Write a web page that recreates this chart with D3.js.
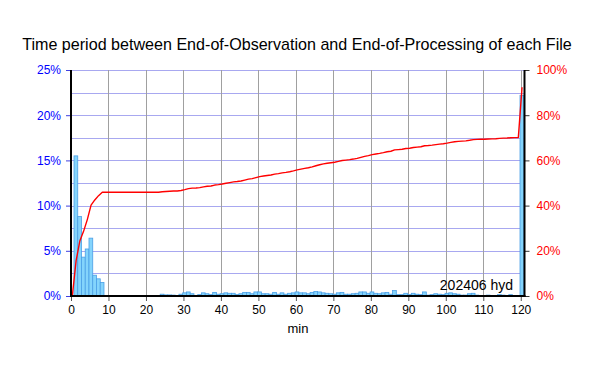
<!DOCTYPE html>
<html>
<head>
<meta charset="utf-8">
<script src="https://cdn.jsdelivr.net/npm/d3@7"></script>
<style>
  html, body { margin: 0; padding: 0; background: #fff; }
  svg { display: block; font-family: "Liberation Sans", Arial, sans-serif; }
</style>
</head>
<body>
<svg id="chart" width="594" height="369"></svg>
<script>
// ---- data ----
const titleText = "Time period between End-of-Observation and End-of-Processing of each File";
const xLabel = "min";
const stampText = "202406 hyd";
// minute bins 0..120
const minutes = d3.range(0, 121);
// share of files per minute bin (%) — index = minute
const filePct = [
  0,
  15.5, 8.8, 4.3, 5.2, 6.4, 2.3, 1.9, 1.5, 0, 0,        // 1-10
  0, 0, 0, 0, 0, 0, 0, 0, 0, 0,                        // 11-20
  0, 0, 0, 0.2, 0.12, 0.12, 0.1, 0.05, 0.2, 0.35,       // 21-30
  0.45, 0.25, 0.05, 0.15, 0.35, 0.25, 0.15, 0.4, 0.2, 0.25, // 31-40
  0.35, 0.3, 0.3, 0.15, 0.25, 0.4, 0.4, 0.25, 0.45, 0.45,   // 41-50
  0.25, 0.25, 0.2, 0.4, 0.2, 0.35, 0.2, 0.3, 0.35, 0.45,    // 51-60
  0.35, 0.35, 0.25, 0.4, 0.5, 0.45, 0.35, 0.3, 0.25, 0.2,   // 61-70
  0.35, 0.4, 0.2, 0.2, 0.25, 0.3, 0.45, 0.45, 0.3, 0.45,    // 71-80
  0.3, 0.25, 0.35, 0.4, 0.2, 0.6, 0.15, 0.15, 0.3, 0.15,    // 81-90
  0.3, 0.2, 0.15, 0.45, 0.1, 0.15, 0.25, 0.2, 0.15, 0.3,    // 91-100
  0.35, 0.25, 0.2, 0.1, 0.1, 0.25, 0.3, 0.1, 0.05, 0.05,    // 101-110
  0.1, 0.05, 0.05, 0.15, 0.1, 0.05, 0.15, 0.05, 0.05, 22.2  // 111-120
];
// cumulative share of files (%), derived from the bins
const cumPct = filePct.reduce((acc, v, i) => { acc.push((i ? acc[i - 1] : 0) + v); return acc; }, []);

const xTicks = [0, 10, 20, 30, 40, 50, 60, 70, 80, 90, 100, 110, 120];
const leftTicks = [0, 5, 10, 15, 20, 25];
const leftGrid = [2.5, 5, 7.5, 10, 12.5, 15, 17.5, 20, 22.5, 25];
const rightTicks = [0, 20, 40, 60, 80, 100];

// ---- layout ----
const svg = d3.select("#chart");
const L = 71, R = 524.5, T = 70, B = 296;
const x = d3.scaleLinear().domain([0, 121]).range([L, R]);
const yL = d3.scaleLinear().domain([0, 25]).range([B, T]);
const yR = d3.scaleLinear().domain([0, 100]).range([B, T]);

// title
svg.append("text").attr("x", 297).attr("y", 50).attr("text-anchor", "middle")
  .attr("font-size", 16.1).attr("fill", "#000").text(titleText);

// horizontal grid
svg.append("g").selectAll("line").data(leftGrid).join("line")
  .attr("x1", L).attr("x2", R)
  .attr("y1", d => Math.round(yL(d)) + 0.5).attr("y2", d => Math.round(yL(d)) + 0.5)
  .attr("stroke", "#a8a8f0").attr("stroke-width", 1);

// vertical grid
svg.append("g").selectAll("line").data(xTicks.filter(d => d > 0)).join("line")
  .attr("x1", d => Math.round(x(d)) + 0.5).attr("x2", d => Math.round(x(d)) + 0.5)
  .attr("y1", T).attr("y2", B)
  .attr("stroke", "#a0a0a0").attr("stroke-width", 1);

// bars
const barData = minutes.map((m, i) => ({ m, v: filePct[i] })).filter(d => d.v > 0);
svg.append("g").selectAll("rect").data(barData).join("rect")
  .attr("x", d => x(d.m - 0.2))
  .attr("width", d => x(d.m + 0.8) - x(d.m - 0.2))
  .attr("y", d => yL(d.v))
  .attr("height", d => B - yL(d.v))
  .attr("fill", "#84d4fc").attr("stroke", "#4a9fe6").attr("stroke-width", 0.8);

// cumulative line
const line = d3.line().x((d, i) => x(minutes[i] + 0.35)).y(d => yR(d));
svg.append("path").datum(cumPct).attr("d", line)
  .attr("fill", "none").attr("stroke", "#ff0000").attr("stroke-width", 1.4)
  .attr("stroke-linejoin", "round");

// stamp
svg.append("text").attr("x", 513).attr("y", 290).attr("text-anchor", "end")
  .attr("font-size", 14).attr("fill", "#000").text(stampText);

// left axis
const gL = svg.append("g").attr("transform", `translate(${L},0)`)
  .call(d3.axisLeft(yL).tickValues(leftTicks).tickFormat(d => d + "%").tickSize(5).tickPadding(5));
gL.select(".domain").remove();
gL.selectAll(".tick line").attr("stroke", "#4040e0");
gL.selectAll(".tick text").attr("fill", "#0000ff").attr("font-size", 12)
  .attr("font-family", "Liberation Sans, Arial, sans-serif");

// right axis
const gR = svg.append("g").attr("transform", `translate(${R},0)`)
  .call(d3.axisRight(yR).tickValues(rightTicks).tickFormat(d => d + "%").tickSize(5).tickPadding(7));
gR.select(".domain").remove();
gR.selectAll(".tick line").attr("stroke", "#333");
gR.selectAll(".tick text").attr("fill", "#ff0000").attr("font-size", 12)
  .attr("font-family", "Liberation Sans, Arial, sans-serif");

// bottom axis
const gB = svg.append("g").attr("transform", `translate(0,${B})`)
  .call(d3.axisBottom(x).tickValues(xTicks).tickFormat(d3.format("d")).tickSize(5).tickPadding(4));
gB.select(".domain").remove();
gB.selectAll(".tick line").attr("stroke", "#555");
gB.selectAll(".tick text").attr("fill", "#000").attr("font-size", 12)
  .attr("font-family", "Liberation Sans, Arial, sans-serif");

// frame lines
svg.append("line").attr("x1", L).attr("x2", L).attr("y1", T).attr("y2", B + 1)
  .attr("stroke", "#000").attr("stroke-width", 2);
svg.append("line").attr("x1", R).attr("x2", R).attr("y1", T).attr("y2", B + 1)
  .attr("stroke", "#000").attr("stroke-width", 2);
svg.append("line").attr("x1", L - 1).attr("x2", R + 1).attr("y1", B).attr("y2", B)
  .attr("stroke", "#000").attr("stroke-width", 2);

// x label
svg.append("text").attr("x", 298).attr("y", 333).attr("text-anchor", "middle")
  .attr("font-size", 13).attr("fill", "#000").text(xLabel);
</script>
</body>
</html>
